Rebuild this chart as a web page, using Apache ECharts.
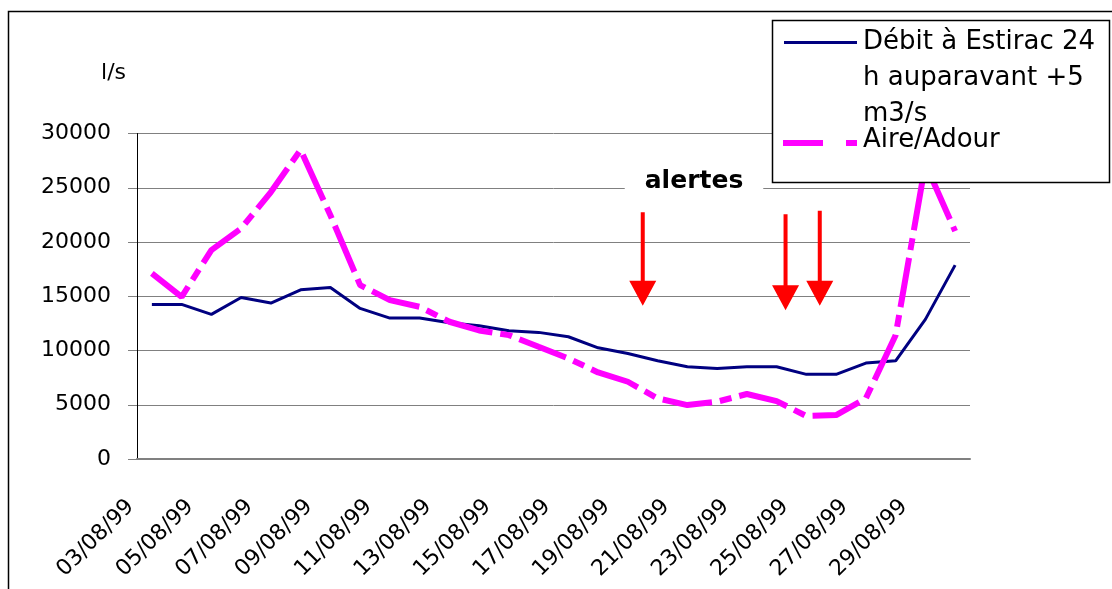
<!DOCTYPE html>
<html>
<head>
<meta charset="utf-8">
<script src="https://cdn.jsdelivr.net/npm/echarts@6/dist/echarts.min.js"></script>
<style>
html, body { margin: 0; padding: 0; background: #fff; }
#main { width: 1112px; height: 589px; }
</style>
</head>
<body>
<div id="main"></div>
<script>
// jours d'août 1999
var dates = ['03/08/99', '04/08/99', '05/08/99', '06/08/99', '07/08/99', '08/08/99', '09/08/99',
	'10/08/99', '11/08/99', '12/08/99', '13/08/99', '14/08/99', '15/08/99', '16/08/99',
	'17/08/99', '18/08/99', '19/08/99', '20/08/99', '21/08/99', '22/08/99', '23/08/99',
	'24/08/99', '25/08/99', '26/08/99', '27/08/99', '28/08/99', '29/08/99', '30/08/99'];
var debitEstirac = [14250, 14250, 13330, 14890, 14370, 15590, 15810, 13880, 12990, 12990,
	12560, 12280, 11820, 11670, 11270, 10250, 9730, 9060, 8500, 8350,
	8500, 8500, 7800, 7800, 8840, 9050, 12870, 17870];
var aireAdour = [17100, 14950, 19250, 21250, 24600, 28500, 22470, 16030, 14640, 14030,
	12650, 11850, 11420, 10340, 9270, 7980, 7120, 5590, 4970, 5280,
	5990, 5340, 3960, 4050, 5590, 11400, 27200, 21000];
var seriesNames = ['Débit à Estirac 24\nh auparavant +5\nm3/s', 'Aire/Adour'];
// flèches "alertes" : position (index de jour) et valeurs haut / pointe
var alertAt = [16.5, 21.3, 22.45];
var alertTop = [22750, 22560, 22870];
var alertTip = [14120, 13720, 14120];

var font = 'DejaVu Sans';
var myChart = echarts.init(document.getElementById('main'));
var option = {
	animation: false,
	backgroundColor: '#fff',
	grid: {
		left: 137,
		right: 142,
		top: 133.5,
		bottom: 130,
		containLabel: false,
		outerBoundsMode: 'none'
	},
	xAxis: {
		type: 'category',
		data: dates,
		boundaryGap: true,
		axisLine: {
			lineStyle: {
				color: '#808080',
				width: 2
			}
		},
		axisTick: {
			interval: 1,
			length: 10,
			lineStyle: {
				color: '#000',
				width: 1
			}
		},
		axisLabel: {
			interval: 1,
			rotate: 45,
			margin: 23,
			padding: [0, 30, 0, 0],
			color: '#000',
			fontSize: 22,
			fontFamily: font
		},
		splitLine: {
			show: false
		}
	},
	yAxis: {
		type: 'value',
		min: 0,
		max: 30000,
		interval: 5000,
		name: 'l/s',
		nameLocation: 'end',
		nameGap: 60,
		nameTextStyle: {
			color: '#000',
			fontSize: 22,
			fontFamily: font,
			align: 'right',
			verticalAlign: 'middle',
			padding: [0, 11, 0, 0]
		},
		axisLine: {
			show: true,
			lineStyle: {
				color: '#000',
				width: 1
			}
		},
		axisTick: {
			show: true,
			length: 9,
			lineStyle: {
				color: '#808080'
			}
		},
		axisLabel: {
			margin: 26,
			color: '#000',
			fontSize: 22,
			fontFamily: font,
			formatter: function(v) {
				return String(v);
			}
		},
		splitLine: {
			lineStyle: {
				color: '#808080',
				width: 1
			}
		}
	},
	series: [{
		name: seriesNames[0],
		type: 'line',
		data: debitEstirac,
		symbol: 'none',
		lineStyle: {
			color: '#000080',
			width: 3
		},
		z: 2
	}, {
		name: seriesNames[1],
		type: 'line',
		data: aireAdour,
		symbol: 'none',
		lineStyle: {
			color: '#ff00ff',
			width: 6,
			type: [50, 8, 12, 8],
			cap: 'butt'
		},
		z: 3
	}]
};
myChart.setOption(option);

/**
 * annotations : légende, "alertes", flèches, cadre
 * **/
function px(idx, val) {
	var i0 = Math.floor(idx);
	var a = myChart.convertToPixel({ xAxisIndex: 0, yAxisIndex: 0 }, [i0, val]);
	var b = myChart.convertToPixel({ xAxisIndex: 0, yAxisIndex: 0 }, [i0 + 1, val]);
	return [a[0] + (b[0] - a[0]) * (idx - i0), a[1]];
}

var graphics = [];
// cadre extérieur
graphics.push({
	type: 'rect',
	shape: { x: 8.5, y: 11.5, width: 1200, height: 700 },
	style: { fill: null, stroke: '#000', lineWidth: 1.5 },
	z: 100
});
// flèches
for (var k = 0; k < alertAt.length; k++) {
	var pTop = px(alertAt[k], alertTop[k]);
	var pTip = px(alertAt[k], alertTip[k]);
	var ax = pTop[0], hb = pTip[1] - 25;
	graphics.push({
		type: 'polygon',
		shape: {
			points: [[ax - 2, pTop[1]], [ax + 2, pTop[1]], [ax + 2, hb], [ax + 13.5, hb],
				[ax, pTip[1]], [ax - 13.5, hb], [ax - 2, hb]]
		},
		style: { fill: '#ff0000' },
		z: 100
	});
}
// texte "alertes"
graphics.push({
	type: 'text',
	x: 694,
	y: 181,
	style: {
		text: 'alertes',
		font: 'bold 25px "DejaVu Sans"',
		fill: '#000',
		align: 'center',
		verticalAlign: 'middle',
		backgroundColor: '#fff',
		padding: [5, 20, 5, 20]
	},
	z: 100
});
// légende
graphics.push({
	type: 'rect',
	shape: { x: 772.5, y: 20.5, width: 337, height: 162 },
	style: { fill: '#fff', stroke: '#000', lineWidth: 1.5 },
	z: 100
});
graphics.push({
	type: 'line',
	shape: { x1: 784, y1: 42.5, x2: 857, y2: 42.5 },
	style: { stroke: '#000080', lineWidth: 3 },
	z: 101
});
graphics.push({
	type: 'line',
	shape: { x1: 783, y1: 143, x2: 823, y2: 143 },
	style: { stroke: '#ff00ff', lineWidth: 6 },
	z: 101
});
graphics.push({
	type: 'line',
	shape: { x1: 846, y1: 143, x2: 857, y2: 143 },
	style: { stroke: '#ff00ff', lineWidth: 6 },
	z: 101
});
graphics.push({
	type: 'text',
	x: 863,
	y: 24,
	style: {
		text: seriesNames[0],
		font: '26px "DejaVu Sans"',
		fill: '#000',
		lineHeight: 36,
		verticalAlign: 'top'
	},
	z: 101
});
graphics.push({
	type: 'text',
	x: 863,
	y: 140,
	style: {
		text: seriesNames[1],
		font: '26px "DejaVu Sans"',
		fill: '#000',
		verticalAlign: 'middle'
	},
	z: 101
});
myChart.setOption({ graphic: graphics });
</script>
</body>
</html>
